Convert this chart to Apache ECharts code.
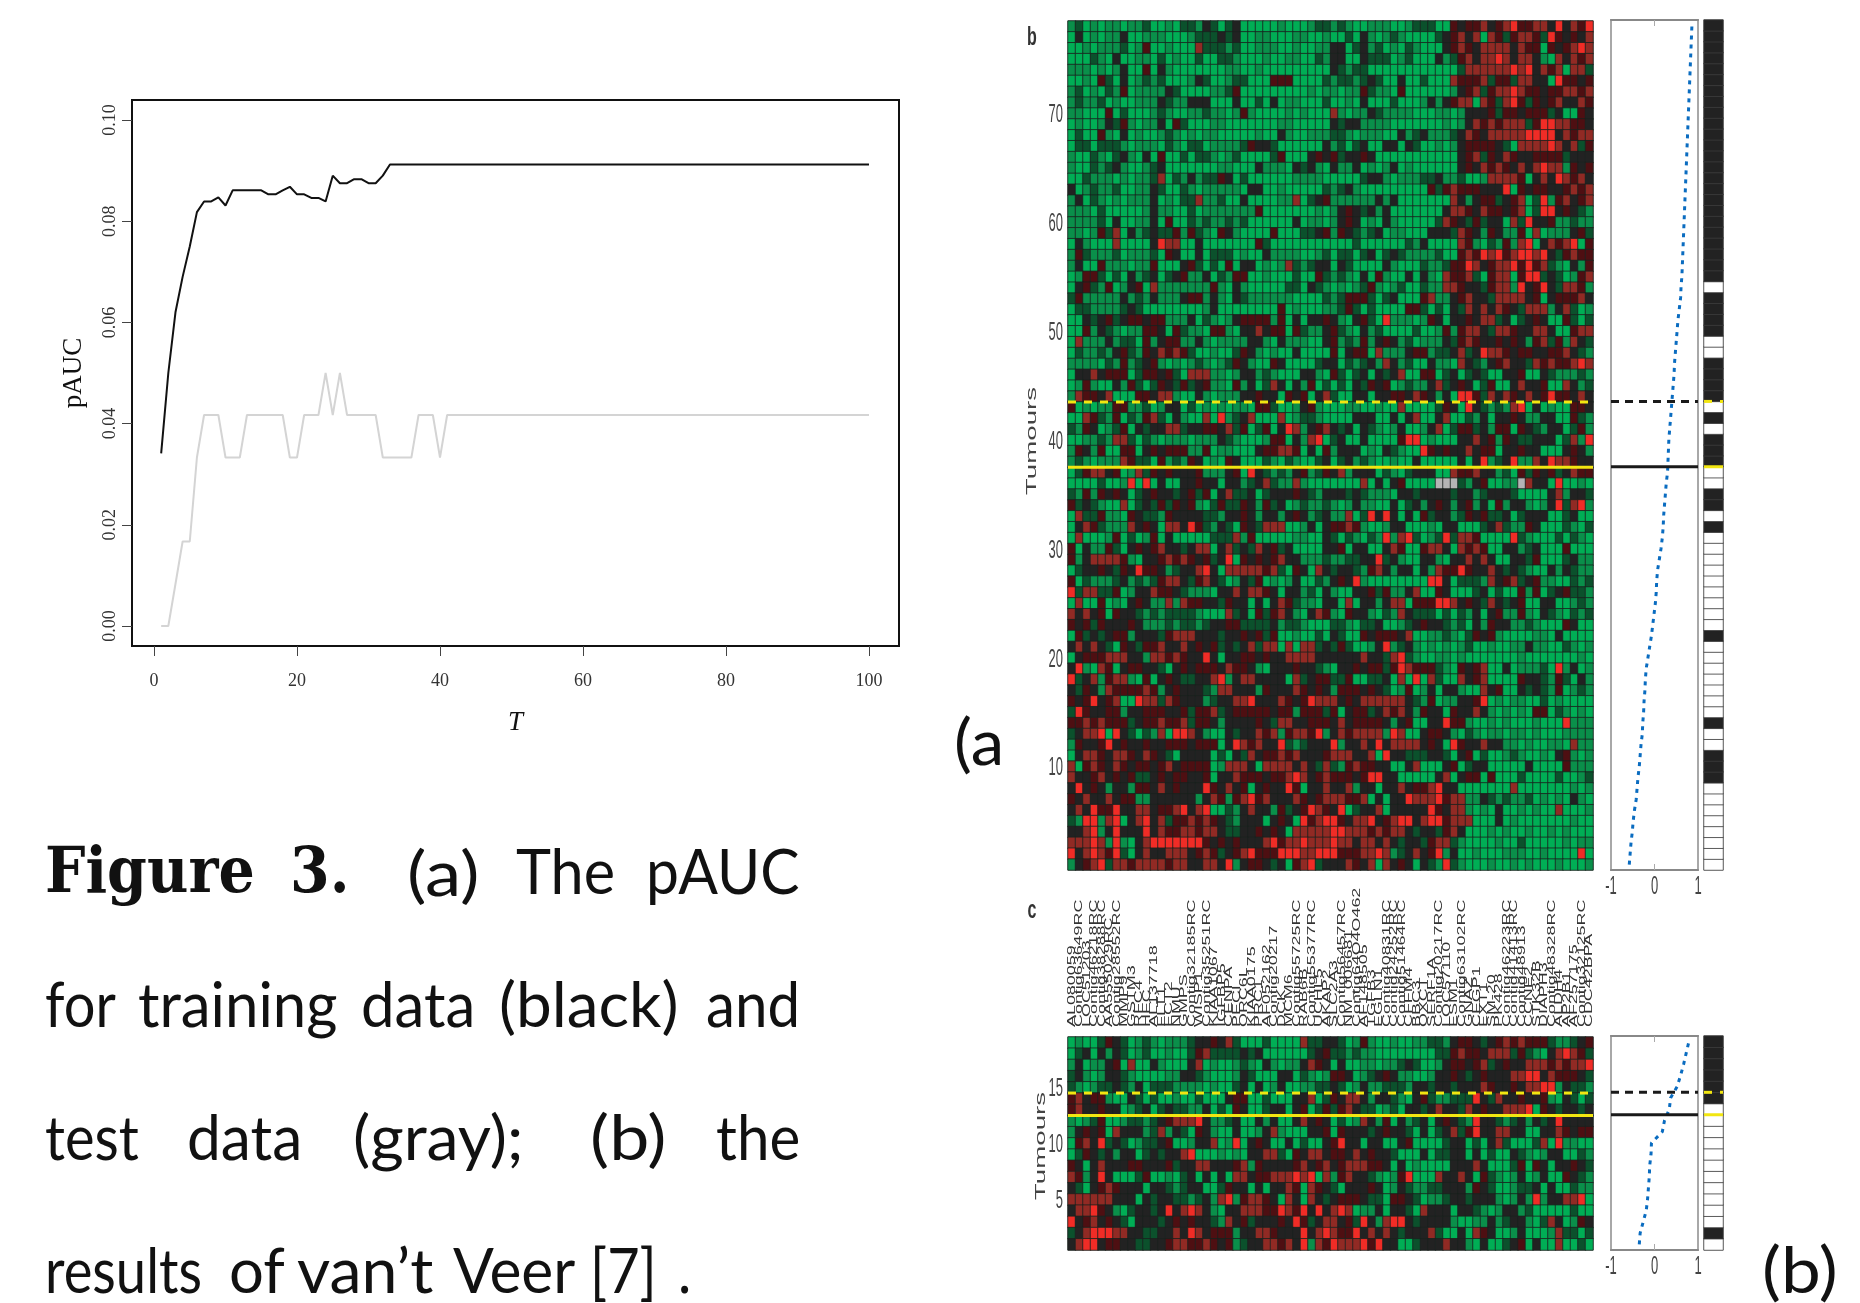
<!DOCTYPE html>
<html><head><meta charset="utf-8">
<style>html,body{margin:0;padding:0;background:#fff}#c{width:1860px;height:1303px;filter:blur(0.45px)}</style>
<script src="https://cdn.jsdelivr.net/npm/echarts@6/dist/echarts.min.js"></script>
</head><body><div id="c"></div>
<script>
const T = Array.from({length:100},(_,i)=>i+1);
const trainPAUC = [.0341,.050,.062,.069,.075,.0818,.0839,.0839,.0847,.0831,.0861,.0861,.0861,.0861,.0861,.0853,.0853,.0861,.0868,.0853,.0853,.0846,.0846,.0839,.0890,.0875,.0875,.0883,.0883,.0875,.0875,.0890,.0912,
.0912,.0912,.0912,.0912,.0912,.0912,.0912,.0912,.0912,.0912,.0912,.0912,.0912,.0912,.0912,.0912,.0912,.0912,.0912,.0912,.0912,.0912,.0912,.0912,.0912,.0912,.0912,.0912,.0912,.0912,.0912,.0912,.0912,.0912,.0912,.0912,.0912,.0912,.0912,.0912,.0912,.0912,.0912,.0912,.0912,.0912,.0912,.0912,.0912,.0912,.0912,.0912,.0912,.0912,.0912,.0912,.0912,.0912,.0912,.0912,.0912,.0912,.0912,.0912,.0912,.0912,.0912];
const testPAUC = [0,0,.0083,.0167,.0167,.0333,.0417,.0417,.0417,.0333,.0333,.0333,.0417,.0417,.0417,.0417,.0417,.0417,.0333,.0333,.0417,.0417,.0417,.05,.0417,.05,.0417,.0417,.0417,.0417,.0417,.0333,.0333,.0333,.0333,.0333,.0417,.0417,.0417,.0333,
.0417,.0417,.0417,.0417,.0417,.0417,.0417,.0417,.0417,.0417,.0417,.0417,.0417,.0417,.0417,.0417,.0417,.0417,.0417,.0417,.0417,.0417,.0417,.0417,.0417,.0417,.0417,.0417,.0417,.0417,.0417,.0417,.0417,.0417,.0417,.0417,.0417,.0417,.0417,.0417,.0417,.0417,.0417,.0417,.0417,.0417,.0417,.0417,.0417,.0417,.0417,.0417,.0417,.0417,.0417,.0417,.0417,.0417,.0417,.0417];
const xTicks=[0,20,40,60,80,100], yTicks=[0,.02,.04,.06,.08,.10];

// Expression levels read cell by cell, top row first. G g d k r m R = bright green ... bright red, x = missing
const heatB = [
"gdGgGggGgg dGGgGddgkd GdkGGGGGgG GGgddgdgGG gggGGgdddG GrkrrmkrmR rrmmkRkmrR",
"GkGgGggkGG gggGGGgddd kdkGGggGGG ggGGgGGdGk gGgdgGGGGd krmkmGmrdr mmrdRrkrkm",
"GGgGgggdGg rGGgGGGmdd dgdGGgggGG gGGggkkGdk gdGgGdgGGG krmrkmmmmk mrrGrkrmRm",
"GGGdgGkGGg gGdGgGGdGG ddgGGGgGGg gGGdgkkGGk dddGgdGGGk gdrmkmmRmk mmkgGmkmrm",
"gggGgGgkGG rGkgGGGGGG GggGGgGGGG GGGGGkdgdd GGGGGGGGGG GGdmmmmmmR mRkmrmGmmd",
"GGgGrdGkGg dgdGGGgkdG GgddGGGrrr GGGGdgddgd kdGGkGGdGG Gmrrrmdrrd mmkkGRrrkr",
"gdGgGdgrGg gggkdGGGGg gdrGGGGGGG GGgGggGggr dggGrGGGGG GgkrmdrmmR mrrkrrmmrm",
"gdggdGgGGg ggkdggkkkG GGkGGdGkGg gGGGdGGgGk GGGdGGGgkg krmmGmrdmR rdrkrmkkmr",
"ggGGGrGdGG GgdgGGggdg gGgrgGGGGg GgGGGmgGgg kdggggGGGg gGgkkkrdrr krrrdkGGrk",
"GgGGgkdrgG ggkGrdGGGg gGGGGGGGgg GGGGGkdkkg gggGGGGGGG gGgkmrmrmm mdrRRmmrrk",
"GdGGrgGkGg GGgdgGgGgg GGGGGgGGkg GGgggddgGg ggGGkgdkgg gdkmrkmmmm mRRRRkmrmm",
"GddGdddgGg ggGdgGddGg gggdrkkdGG GGGGkgdGdk GGkkGkdGGg GgkrrrrkdG mmmmRmkmdr",
"gGGdgGdkgG kGrGGdGddg GgdGGGGdrG GGkrkrdkkr kGGGGGGGGG GGkrmdrkmr kkrrrrdkkk",
"gGGdgdkgGG gdkGGGGGGG ggGGGkgggG kdkgGkggkG gGgkGgGGGG GGkrkmrmrk mkmRmmgrkr",
"GGdgggGgGg gdmGdgkgdd rkGdGGGGGG ggggGGGGGd kkgGgggddk ggdGGgmmmm rGkmkRmrmk",
"kGgdggdGGg gkdGGdgGgg gggGkkGGgG GGGGdgdkgG GGGGGGGGrd rmrrrkkkRG rkrrkkrmrm",
"gkGdgGgGgg gkGgGddmgg dGGkGGGGgg mGdkrggggg gkgkGGGGGG Gmkgkrrdkr mGdRgrmkrm",
"gggGdGGGGG gkggGGdGgg gggggrGGGG GGGgGgkrkd kgkGGGGGGG kmmrkmrrkr mGdRRkrkdg",
"ggggdGkGGg gkGrGGdgdg gdgdGGGGGG kGggGgkrkG gGkgGGGGGd mrkdrdkkGm dRkkrggdgg",
"ggGgrdmGkg dkddrgrdgG rkgGGGGrGG Gddkrgrkdg dkGggGGGkk kdmrkgrkgg rGmGgggkrd",
"GkgGGGmGGG GkRmmGGkGG GGGGGrdGGG GGGGGGGGdG GGGGGdgkGG GGmrgGdgrg mRGkmrmRGr",
"grdgggdGgg gdGrkGGkGd ddGgGGkggg gGGgdGddGd kGdkdggggd GGrmrRmRrm RRmRkdrmrr",
"gkGGrgggGg grGGGkrdGd GrGkkGgGgm dgdkkGkdGG GGkgGGGdgg drrRmkrmmR rRrmdgGkgr",
"GgrrdGdGkg dkGdkrggkG dgrrGGgGGG dGGrdgdgGk GrgGGkGkgG mrrmdGrmmG rRRdkdGgrm",
"GkrdgrGgkr Gmgggggggr gGkgGGGGGd dGkdgGgGgd rgGgdGGdgg mmrkkdrmmg RkrRkdmmrg",
"drgggggkgd gkgggkrrgk gGkdgggggg GGGGdgdrrr dGdkGGGrmg gkrmkkdmmm mkrGkrrrmk",
"Gddggggdkd GGGGGGGGgk GGGGGGGGrG gGGGggdrdG dGGGGrrdGd Gkdmkmkmrk dmmmgkmdGg",
"GGkdkrdkrr krrgggkGdg GgkrrrrgrG kGkkrkgGkr dGRgggGgrk GkkrkmmdkG dkrkGGrdGd",
"GGrgkdgGgg rrkGrdggGr rgGkkmkrrG rdggkrdgGk gdGGGGdGGg rgrmmkdmmr kkmmkGGrmm",
"GmgggkgddG rgkrrggkgG ggggkkgGkg ggGGkrgdgr gkrkgdGggg kdrmrkkrkr kgrmdrgmkd",
"Gdggdgkrdg rkmrmrdGGg GGdrkgGgGG kGGGGrGkrr Gmgggkrrgd dkmdkRmmrk rrkkrrmkdg",
"ggggGdgrgd krgGgGgdgG gdrkgGGrkG GGGdkkGdgd kgmkgdGGkg gGmkdgkrmk kdmrmrrmRm",
"GkkmkrrrGd rrkrdGmmmg gGgkkgdgGG GkkgGrdGdk GkdkmGGrrG dkGdkdGGkk rGGkdgggdg",
"GgrgGGkgrd Gdrkdrdkrg gGrgkGdmkG kgrGdGdGkd rkrGgdggkm dkrkGdrGGk mkkrGGmkgd",
"gmrrkmGGGr rkmmgGGkgG gggkkrkkGr krGkmdGGkk Gkkrrkmrkg kGRRrdmkmr kmkrRrrkmk",
"rGgGggrrgg dGgkkGdGgG gGggGrrdGG gkrgGGGggG GgGGmGGGGd rkGRkdgdgm RGkGgGGrrk",
"GGmrdgrGdg rmdGkgGGmG RgdkmGGGmG gddgGGGGkk kGGkGkmGGk mGGdgkGkkr kggkkGGrdg",
"dgrkGgdrGk dkkmmdkkrr kmdrGdrGkR mgkrmkdkGk dgGgkGGgkm GdrrdkgrrG rkdgkkGdrg",
"GGggdgmmdG dgGgggGggg kdgGGGgrrG kgmRGdkGGk GGGGrRRGgG GGkkmkrgrk ddkkkGdmgR",
"grkgrGGrrG krkrrrggrG ggGGGkrrmm rGkGrgkkkG gGkdgGGRrk rkkmkrrGkk rkkGGGkrkg",
"gdgGgggmrd dGrgdgrkGg GrkGGGdgGd gGGdkGdkgd gGGgGGkGGG GGkGkRgdkR ggmkRmmrkk",
"GdrmmkrGgm drkrkkkrgg gkrGRkdgdg krgdrkmgkk kGdgGdkkkG GmrrmkkgdG rdrkrdkmrr",
"GGGGdGGgRG RGkGGkkrkk Gkkgdkmdgg mgGGGGGGGm GkGkrGGGGx xxdgkrGGgg xmkkGRGGgG",
"dgrgrkrkGd krkkdkrdrG kmddkGdkkk rkdgkkkdkd gggGkkdkkk kdkkgdkkkd GGGGkmgkkd",
"rdkdgGGmGd kdrdrkrgGd rddrkgrdkG gdggdgGgkg gGGkGdkgkr kgkrgkGrgk kgGgkRdmRg",
"GmddrggGrk ddgrkkkkdd gkkrkgkkgk rkgdkggmGd RkRkGkGrdk kgdrkrddkG dkkkGGdkGG",
"Gkmrdgggmk rkGmmkRrdg kdGrkdmmmG GgkGkrrmrg GGgkkGGGgG kkGGGdkmdg grkGGGdgGd",
"GmGGGgrGdG grGkGGGGGd ddmgrGGGGG ggGGkdGdgG dgRgmRdGgd RdmmrGGGGR dgGGGdGdgG",
"rGkggrdGkr krmkkdkmmG kmdkdmkrdk GGGGkkrGkk GGkmrGGrmm kGmrmrGGkk gdkGGGrGGG",
"rgkmmmmrgG kkrmrmrkrd kRGrkrkrmk kgggdggddk kRdkgGGkkg GkkmkmkGGk kdrGGGdkgg",
"GdkkrkdrkR rrkgdkkmRk GmmmmmrmdG rkGmkdkkdg rmkgkkGkgm rrRrkkmkdk dgGGkgkdgg",
"rGdgggdkgd gdrmmkdrmk dGgkdrGgGg kGGdgkrkRg GGGGGGGGRR kGdddgmkrm dkrggGGdgd",
"RdmmddrGgk kmrrkdgggG kkmkmmrkGk kgdGkgGGkk rdrggkmGGr kGGGdkGdGG rgrGdkrddg",
"GmGGrGgGkr kggmgmrrkk drkkGkGkmr dggGkkGmGk kgkmmGrrrR Rmkrkdmkdk rGGkkGGgdg",
"mkmkrGrkkd gdgddddgGG GmdkGrdrmk gGkmrgGrkk gGdgmkdddG dGdgkGkrgg rgGkdgGdgd",
"rkrdrkkkrk gggdgddgdk krrddddkgd dgGGGddgGd dkGGgdkrkk dgdGkgrkkg gdgGGGrkGG",
"Grdkdkrrgk kkdrmmmkkk dkkrkrdrGG gGGdGkdGGr krrrkmGGgg dgGdrkrgGG GGggGkGGGG",
"kmkmkdGrkd rrmkkmkrkr dkdkmdmmGm GmmdkdrdGG gkRgdkgGgG gGgdGGgGGg gkggGGdgGg",
"Gkrrrmmmkk gmmrmrkkRk Gkkrrkrkkm mmmkkkkkkm kkdmRdgGGg gGgGGGGGGG gGGGGGGGgG",
"kRgGmrGkrr kkdGkrkrrr kmrrkgGkkk rkkdgGkkrk rrdrRmrrrd gGrkrmGGkG gggdGRgkGg",
"RdkmgrmmgG rGkrkddkkm RgkmmkkkkG mdkrrddrGG ddkGmGRGmd GGmkrmGGGG rkkdgrdGkg",
"kdrkgmrrrr mrgkrkkkdg mmkkkgrkkk mrkrkgrrrk rkdGgrGgkG kkgGGmkrGG kdkdgrGgdg",
"rkrRkrmGGR mmdmrkkkgd kkmmRkkkmr krRmmmkrkm mmmmmkdgrG ggkkrRGgGg gGGdGgGGGG",
"dRrkkrrgkk rrrkkrdrrm dkrrrrrkrr grrrdrGkrr dkmrmkgrkk GrkkmkgGgG gGrrGdgGgG",
"rrmrmrrrdk rrmrrmdrrk gkkkkrkdmm kkrrrkmkrr rrkgkrGGkk RrrgGGgGgG GGgGGGRggg",
"dkmmRGRkdG dgmGRRmkgG Gkdkkmrmgr mmrRgkmrmm mmgRmGGkrr kgGdgGggGg gGgGGGgggg",
"grkkrRkrkk rkkrrrkrrr GkRmrmkkRd gdkkkRgkkm kRkmmmmkrk GRrkkmkkgg GgGGggGmgg",
"Gkmmrkmmrk mrkdGkkkkG dGkdmkrrmr mkkkrmmmkk mGRkkdddkk dGkrGdGGgd gGGgGkrgGg",
"mGrmrkmrkr rkrmkrrrrG gmmmkGmmmm kmkdmdgrmr rkkGGkmGGG krGdkkGGGG GkGGGGrggg",
"mkkrmkrkrd dkrkrrkkrG kkmrrrkrrm Rmkrmrrrkr RRkkGGGGGk mGkrrGrGGG dGGGGdGGgd",
"kRkrkgkkgr rkmkrkkkRr kmkrGkrkkR rGkkmkkmgk kGkkmkrrmR kkGGGGGGGm GGGGGGGgGg",
"rkmkkmkrrg gkkkkkkgkm rgrmRrmkkk mrkrmmmrrm GkGkkRmmmR rmmggkdgdg gdGgGgGkgG",
"kmkRrrRkkm mkrrmRkmRG Gdgkmkkgrd krRmrkRGdk kmGkkkkkRr kmmgGgGkGG gGgGGmGGGg",
"dgRRgmRGkm Rkmdrrmrmr kdgkkkGkrk GRrmRRrkmm RkrmRRkmRR rmmmGGGkGg GGGGGGGgGG",
"kkmRgkRkkk Rkmrrmmrmm kddkkrkrkG mmmmmRRmmm rmrmmkdkkd rmkGGGgGgG GgGGgGgGGG",
"mmmRmgRgGk mRRRRRRRrk rkrkkkmRrm mRmmmRmmkm mkmkdkkdrm mdgGGGGgGG dGGGGGgGgg",
"RkmRmrRdGk mkkmmmkrmr dkrmRrrrRR RmmRRRrrrm mRmgdkmkrR gkGGgGGGgg gGGgGGGGRG",
"gkrmRdmmrm mmmrmmkkmm kRgkrrkdkG rmRdkkkmrk mGmkrkGkdg RdgGGGgGGg GgGGGgGGGg"
];
const heatC = [
"GgGGdrkdGg dgGgggdkkr kmdGGGdGGG GmddkkdGgr gGGgGGggdd gkrrkdkrmr mrrrdggdkr",
"GdkGkgkdGg dGGgGGdrmd dddkdkGGGG GGdkrddgdg gGGGGGGGGd drmrrkmmmd rdgGkmRmrd",
"gkGggkrGmG GkgGGGkmGg GGgdgGkgGg gkmrkGkGGg gGggdkdGGg krrkrmdkrk kmmmrmrmmR",
"dkgGgkkdgG GGGggkkdgG GGgkdGGGkk GdgGgrrkGg dkrkggGGgk krkdkrkkkm mRRkmrrrkd",
"dgGgddkdgk GdddggggGg GGdkGkGgkG GggddkdGgk ggdddgkkdk kdkkkmrkkr kmmRRgkddg",
"rmkrrgGGkd GdGGgGGdGG GkrrGGdGGG kkmGdrkmmk gkkdgGkrdg gdddRkdmkk rkkrgGkdGd",
"rmkkrkkGgd kGdkddggkG dGrkGGdkkG krGdrdrmkd dGgdGkkdkm kkdmkrkkmm mRGrkdkkdk",
"gGgdrGGgdd gdkrmmmRkg gdkGGkgkGG kmkrkGdGgm kgrGkgdkGk rkdgRkkdgd kgkdkRkkkk",
"gkrkrGmkkk gdmgkdGrkg GGkGGgkmgG GGkkrGrkkk dkrkkdGkGd kmdrRkkmmk kGGkkmrkrr",
"GrmkRdkdGg ddkrGGgkkm GgRGkrkGGk GdGGkrRkkG kkGGkrGGGG dkkGdGkmdG GGdmGRggGG",
"GdrkdkgkkG dkdkkmRGGG gGgGkkmmdG rkmmkrrkmk rkkdGGGkGd dkkGkGdGGk dgGgkkGGdg",
"rkGkmkkkrr kkkrdkkmmk kkrmgrkkkk rmkrmkrmmm rrkGkGgGGG GkkkmkGGGd rGrkGkkrkd",
"mrgkRkGGGd rGGgGdkGkG kGmmkrrmmm RmRGmgrmkk dgGgrRGGGm kkmkGrdgGg kGgkGGrkdg",
"kdGkrmrkkk GkkdgdkkGG drkkGkGkkm rGmrkdGkkk rkGgkdggdd kkkgrkdGGg ddkGkGGdgg",
"mmmmmmkkkG kdkkddgdkg mRgrmmrkGm kGmkdkrrrk ddGrrkdGgg dkkdkkkgGg kgRgkkmmRG",
"kmmRrkgGdk kdkRkmRmkg GkkmmmrrRm rRkRkmRmGg gkGkkdGmkk kGkkdgGgkk gdGGGGGdGG",
"RkrmkrkdGk kkdkrkrkkd gmkrdkkkrk RrdkmmkrdR kgmRRkdkkk kgGGggkgdk kgGdmkGgrk",
"dkmRRRmmkk ddkkmkRmkr rrgkkmmrkk kRkmRmrrRk mkmkdkkkmd GGkGmrkGGg kGGGgmddGd",
"kmRRkrrkkd dkkrmmrrmr krgdkkmmrm kRgmrRmmmR rRkkGGdkkk mkkgGkGGdk rGkGGmGGdG"
];
const levels = "GgdkrmRx";
const levelColors = ['#00ae55','#0a8f4a','#0b512c','#222222','#4e0f12','#912a24','#f02c26','#b4b4b4'];
const geneLabels = ["AL080059","Contig63649RC","LOC51203","Contig46218RC","Contig38288RC","AA555029RC","Contig28552RC","MMP9","GSTM3","RFC4","HEC","AL137718","FLT1","ECT2","NMU","GMPS","Contig32185RC","WISP1","Contig35251RC","KIAA1067","IGFBP5","CENPA","PECI","ORC6L","KIAA0175","PRC1","AF052162","Contig20217","DCK","MCM6","Contig55725RC","RAB6B","Contig55377RC","UCHL5","AKAP2","SLC2A3","Contig56457RC","NM_006681","Contig64O4O462","AF148505","TGFB3","EGLN1","Contig40831RC","Contig24252RC","Contig51464RC","CFFM4","BBC3","OXCT","SERF1A","Contig20217RC","LOC57110","ESM1","Contig63102RC","GNAZ","CEGP1","EXT1","SM-20","PK428","Contig46223RC","Contig41413RC","Contig48913","CCNE2","STK32B","DIAPH3","Contig48328RC","ALDH4","AP2B1","AF257175","Contig32125RC","CDC42BPA"];

const corrB = [-.58,-.56,-.54,-.51,-.49,-.46,-.42,-.40,-.38,-.35,-.33,-.31,-.28,-.27,-.25,-.24,-.22,-.21,-.19,-.15,-.11,-.07,-.04,-.01,.02,.04,.05,.07,.11,.15,.18,.20,.21,.23,.25,.27,.30,.31,.32,.33,.35,.37,.39,.41,.43,.45,.46,.48,.50,.52,.54,.57,.60,.61,.63,.64,.65,.66,.67,.68,.69,.70,.71,.72,.73,.74,.75,.76,.77,.78,.79,.80,.81,.82,.83,.84,.85,.86];
const corrC = [-.35,-.33,-.26,-.19,-.16,-.14,-.12,-.11,-.08,-.07,.18,.23,.34,.37,.52,.60,.67,.73,.79];
// 1 = metastasis (black), 0 = disease free (white), bottom row first
const statusB = [0,0,0,0,0,0,0,0,1,1,1,0,0,1,0,0,0,0,0,0,0,1,0,0,0,0,0,0,0,0,0,1,0,1,1,0,0,1,1,1,0,1,0,1,1,1,1,0,0,1,1,1,1,0,1,1,1,1,1,1,1,1,1,1,1,1,1,1,1,1,1,1,1,1,1,1,1,1];
const statusC = [0,1,0,0,0,0,0,0,0,0,0,0,0,1,1,1,1,1,1];
const cutB = {solid:37, dashed:43}, cutC = {solid:12, dashed:14};

const xAxes=[], yAxes=[], grids=[], series=[];
function cells(rows){const n=rows.length,out=[];rows.forEach((s,i)=>{const r=s.replace(/ /g,'');[...r].forEach((ch,c)=>out.push([c,n-1-i,levels.indexOf(ch)]));});return out;}
function addGrid(b){grids.push(b);return grids.length-1;}
function addX(o){xAxes.push(o);return xAxes.length-1;}
function addY(o){yAxes.push(o);return yAxes.length-1;}
const hidden=(g,min,max,type)=>({type:type||'value',gridIndex:g,min,max,show:false});
function hLine(x0,x1,yv,xi,yi,color,w,type){series.push({type:'line',xAxisIndex:xi,yAxisIndex:yi,data:[[x0,yv],[x1,yv]],symbol:'none',silent:true,z:9,lineStyle:{color,width:w,type:type||'solid'}});}

// line panel
const g0=addGrid({left:132,top:100,width:767,height:546,show:true,borderColor:'#111',borderWidth:2,backgroundColor:'#fff'});
const x0=addX({type:'value',gridIndex:g0,min:-3.08,max:104.2,name:'T',nameLocation:'middle',nameGap:63,nameTextStyle:{fontFamily:'Liberation Serif',fontStyle:'italic',fontSize:27,color:'#111'},splitLine:{show:false},axisLine:{onZero:false,lineStyle:{color:'#111',width:2}},axisTick:{customValues:xTicks,length:10,lineStyle:{color:'#444',width:1}},axisLabel:{customValues:xTicks,fontFamily:'Liberation Serif',fontSize:18,color:'#333',margin:26}});
const y0=addY({type:'value',gridIndex:g0,min:-0.00395,max:0.10395,name:'pAUC',nameLocation:'middle',nameRotate:90,nameGap:45,nameTextStyle:{fontFamily:'Liberation Serif',fontSize:27,color:'#111'},splitLine:{show:false},axisLine:{onZero:false,lineStyle:{color:'#111',width:2}},axisTick:{customValues:yTicks,length:10,lineStyle:{color:'#444',width:1}},axisLabel:{customValues:yTicks,rotate:90,fontFamily:'Liberation Serif',fontSize:18,color:'#333',margin:13,formatter:v=>v.toFixed(2)}});
series.push({type:'line',xAxisIndex:x0,yAxisIndex:y0,data:T.map((t,i)=>[t,testPAUC[i]]),symbol:'none',lineStyle:{color:'#d4d4d4',width:2}});
series.push({type:'line',xAxisIndex:x0,yAxisIndex:y0,data:T.map((t,i)=>[t,trainPAUC[i]]),symbol:'none',lineStyle:{color:'#111',width:2}});

const heatIdx=[], panels=[];
function panel(o){
  const n=o.rows.length, names=Array.from({length:n},(_,i)=>String(i+1));
  const gh=addGrid({left:1068,top:o.top,width:525,height:o.h,show:true,borderColor:'#888',borderWidth:1});
  const xh=addX({type:'category',gridIndex:gh,data:geneLabels,axisLine:{show:false},axisTick:{show:false},axisLabel:{show:false}});
  const yh=addY({type:'category',gridIndex:gh,data:names,axisLine:{show:false},axisTick:{show:false},axisLabel:{show:false},splitLine:{show:false}});
  heatIdx.push(series.length);
  series.push({type:'heatmap',xAxisIndex:xh,yAxisIndex:yh,data:cells(o.rows),silent:true,progressive:0,itemStyle:{borderColor:'rgba(26,34,30,.8)',borderWidth:1}});
  const xo=addX(hidden(gh,0,1)), yo=addY(hidden(gh,0,n));
  hLine(0,1,o.cut.solid,xo,yo,'#f2e611',3);
  hLine(0,1,o.cut.dashed,xo,yo,'#f2e611',3,[8,8]);
  const gc=addGrid({left:1611,top:o.top-1,width:87,height:o.h+1,show:true,borderColor:'#a8a8a8',borderWidth:2});
  const xc=addX({type:'value',gridIndex:gc,min:-1,max:1,interval:1,splitLine:{show:false},axisLine:{onZero:false,lineStyle:{color:'#888',width:2}},axisTick:{inside:true,customValues:[0],length:6,lineStyle:{color:'#aaa'}},axisLabel:{show:false}});
  addX({type:'value',gridIndex:gc,position:'top',min:-1,max:1,interval:1,splitLine:{show:false},axisLine:{onZero:false,lineStyle:{color:'#888',width:2}},axisTick:{inside:true,customValues:[0],length:6,lineStyle:{color:'#aaa'}},axisLabel:{show:false}});
  const yc=addY({type:'value',gridIndex:gc,min:0,max:n,show:false});
  series.push({type:'line',xAxisIndex:xc,yAxisIndex:yc,data:o.corr.map((v,i)=>[v,i+.5]),symbol:'none',silent:true,lineStyle:{color:'#0a6cc0',width:3,type:[4,5]}});
  hLine(-1,1,o.cut.solid,xc,yc,'#1a1a1a',3);
  hLine(-1,1,o.cut.dashed,xc,yc,'#1a1a1a',3,[8,6]);
  const gs=addGrid({left:1704,top:o.top-1,width:19,height:o.h+1,show:true,borderColor:'#aaa',borderWidth:1});
  const xs=addX({type:'category',gridIndex:gs,data:['status'],show:false});
  const ys=addY({type:'category',gridIndex:gs,data:names,show:false});
  series.push({type:'heatmap',xAxisIndex:xs,yAxisIndex:ys,silent:true,progressive:0,data:o.status.map((v,i)=>[0,i,v?3:8]),itemStyle:{borderColor:'rgba(60,60,60,.8)',borderWidth:1}});
  heatIdx.push(series.length-1);
  const xo2=addX(hidden(gs,0,1)), yo2=addY(hidden(gs,0,n));
  hLine(0,1,o.cut.solid,xo2,yo2,'#f2e611',3);
  hLine(0,1,o.cut.dashed,xo2,yo2,'#f2e611',3,[8,8]);
  panels.push({yh,xc,xh,n,step:o.step,bottom:o.top+o.h});
}
panel({rows:heatB,top:21,h:849,step:10,corr:corrB,status:statusB,cut:cutB});
panel({rows:heatC,top:1037,h:213,step:5,corr:corrC,status:statusC,cut:cutC});

const chart=echarts.init(document.getElementById('c'),null,{renderer:'canvas'});
const pieces=levelColors.map((c,i)=>({value:i,color:c})).concat([{value:8,color:'#fff'}]);
chart.setOption({animation:false,backgroundColor:'#fff',grid:grids,xAxis:xAxes,yAxis:yAxes,series,
 visualMap:{type:'piecewise',show:false,dimension:2,seriesIndex:heatIdx,pieces}});

const word=(x,y,s,o)=>{o=o||{};return {type:'text',x,y,scaleY:o.sy||1,scaleX:o.sx||1,rotation:o.rot||0,silent:true,style:{text:s,fontFamily:o.ff||'Lato',fontSize:o.fs||56,fontWeight:o.fw||'normal',fill:o.fill||'#111',textAlign:o.ta||'left',textVerticalAlign:'middle'}};};
const cap=sx=>({sy:1.12,sx});
const bold={ff:'DejaVu Serif',fw:'bold',fs:57,sy:1.1};
const caption=[
 ['Figure',45,876,bold],['3.',290,876,bold],
 ['(a)',407,876,cap(1.3)],['The',516,874,cap(1.06)],['pAUC',646,874,cap(1.05)],
 ['for',45,1007,cap(1)],['training',138,1007,cap(1.07)],['data',361,1007,cap(1.07)],['(black)',499,1007,cap(1.14)],['and',706,1007,cap(1.04)],
 ['test',45,1140,cap(1)],['data',187,1140,cap(1.08)],['(gray);',353,1140,cap(1.15)],['(b)',590,1140,cap(1.28)],['the',716,1140,cap(1.04)],
 ['results',45,1273,cap(.97)],['of',229,1273,cap(1.1)],['van\u2019t',297,1273,cap(1.15)],['Veer',453,1273,cap(1.08)],['[7]',590,1273,cap(1)],['.',678,1273,cap(1)],
 ['(a',954,744,{sy:1.15,sx:1.2}],['(b)',1762,1272,{sy:1.15,sx:1.27}]
];
const graphic=caption.map(c=>word(c[1],c[2],c[0],c[3]));
const numS={ff:'Liberation Sans',fs:25,sx:.52,fill:'#444'};
panels.forEach(p=>{
  for(let v=p.step;v<=p.n;v+=p.step){
    graphic.push(word(1063,chart.convertToPixel({yAxisIndex:p.yh},String(v))+2,String(v),{...numS,ta:'right'}));
  }
  [-1,0,1].forEach(v=>graphic.push(word(chart.convertToPixel({xAxisIndex:p.xc},v),p.bottom+17,String(v),{...numS,ta:'center'})));
});
const small={ff:'Liberation Sans',fw:'bold',fs:16,sy:1.6,ta:'center',fill:'#333'};
graphic.push(word(1032,38,'b',small));
graphic.push(word(1032,911,'c',small));
const tum={ff:'Liberation Sans',fs:15,sx:1.85,rot:Math.PI/2,ta:'center',fill:'#444'};
graphic.push(word(1032,441,'Tumours',tum));
graphic.push(word(1041,1146,'Tumours',tum));
geneLabels.forEach(g=>graphic.push(word(chart.convertToPixel({xAxisIndex:panels[1].xh},g),1027,g,{ff:'Liberation Sans',fs:10,sx:1.79,rot:Math.PI/2,fill:'#333'})));
chart.setOption({graphic});
</script></body></html>
